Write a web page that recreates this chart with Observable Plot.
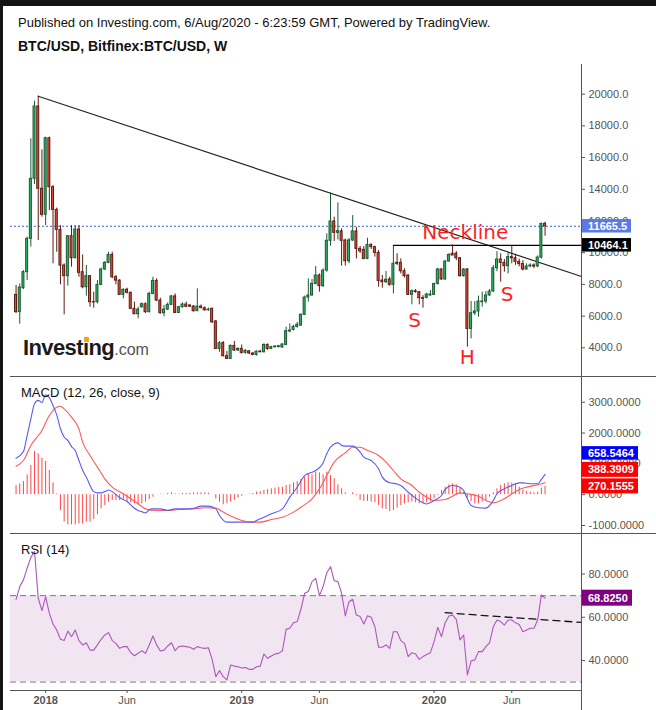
<!DOCTYPE html>
<html><head><meta charset="utf-8">
<script src="https://cdn.jsdelivr.net/npm/d3@7"></script>
<script src="https://cdn.jsdelivr.net/npm/@observablehq/plot@0.6"></script>
<style>
html,body{margin:0;padding:0;background:#fff;}
#root{position:relative;width:656px;height:710px;overflow:hidden;background:#fff;font-family:"Liberation Sans",Arial,sans-serif;}
#root > *{position:absolute;}
</style></head><body><div id="root"></div>
<script>
// ---------- DATA (weekly BTC/USD, Bitfinex, first bar = week of 2017-11-06) ----------
const firstWeek = "2017-11-06";
const opens = [7340,6250,7760,8770,10870,14660,19220,14030,12390,17220,14130,12700,11440,9190,8520,11040,9650,11460,8770,7820,8520,6880,6880,7970,8940,9360,9860,8450,8240,7340,7660,7470,6460,6120,6560,6750,6250,7400,8220,6980,6180,6410,6710,7240,6200,6560,6730,6670,6600,6310,6600,6500,6370,6460,5660,3930,4290,3470,3300,4120,3830,3930,3680,3780,3640,3550,3760,3720,4180,3930,4040,4040,4020,4180,5030,5130,5320,5400,6080,7170,7300,8030,8560,7890,8870,10750,11970,11250,11340,10770,9460,10770,11340,10240,10180,9610,10490,10350,9990,8240,8140,8310,7970,9360,9360,8830,8560,7340,7570,7510,7130,7150,7300,7340,8030,8940,8310,9440,9930,9930,9650,8520,8940,5190,6180,6290,6880,6920,7300,7550,9020,9570,9360,9150,9720,9650,9420,9280,8940,9130,9190,9130,9690,11820];
const highs = [7930,8030,8870,10980,17180,19560,19870,16490,17290,17290,14240,12810,11710,9300,11080,11710,11710,11710,9860,9190,8560,7510,8240,9020,9440,10030,10030,8560,8290,7720,7760,7510,6880,6560,6830,6830,7510,8450,8350,7130,6670,6830,7300,7400,6620,6830,6880,6710,6670,7720,6700,6580,6500,6500,5720,4400,4400,3760,4180,4400,4000,4180,3890,3830,3700,3800,3840,4250,4250,4100,4120,4150,4250,5300,5510,5420,5600,6140,7260,8350,8310,9130,8660,8980,11190,13770,12240,13140,11500,10850,10900,12340,11600,10390,10390,10910,10560,10410,10140,8560,8810,8460,10410,9930,9610,8980,8600,7650,7680,7560,7290,7440,7610,8070,9020,8980,9500,9930,10490,10070,9700,9000,9000,6920,6920,7260,7510,7550,7680,9190,10070,9930,9570,10030,10410,9900,9600,9500,9300,9300,9300,9800,11850,11920];
const lows = [6160,5490,7680,8240,10350,14300,10770,12240,11710,12660,9300,10030,7970,6080,7890,9090,9610,8450,7720,7260,6560,6500,6770,7930,8870,9300,8350,7970,7300,7090,7400,6410,6080,5830,6500,6160,6200,7340,6920,6120,5950,6350,6670,6160,6160,6500,6540,6540,6250,6290,6450,6300,6300,5530,3890,3720,3430,3260,3260,3760,3780,3600,3600,3580,3500,3480,3690,3680,3830,3880,3980,4000,3980,4140,4950,5060,5240,5360,6040,6880,7260,7970,7510,7800,8770,10410,10700,10800,9150,9150,9300,10700,9610,9950,9550,9560,10200,9720,7820,7760,8050,7880,7400,9190,8660,8400,7300,6710,7450,6710,6500,7090,7260,7300,7960,8260,8260,9400,9820,9500,8460,8460,4040,4560,6040,5930,6560,6770,7260,7510,8800,8140,8770,8660,9300,9200,9100,8850,8900,9050,9000,9050,9600,11040];
const closes = [6250,7800,8770,10870,14660,19220,14030,12390,17220,14130,12700,11440,9190,8520,11040,9650,11460,8730,7820,8520,6880,6860,7970,8940,9360,9860,8450,8240,7340,7660,7470,6460,6120,6410,6750,6250,7400,8220,6980,6180,6410,6710,7240,6200,6560,6730,6580,6600,6310,6600,6520,6370,6410,5610,3930,4290,3470,3300,4120,3830,3930,3680,3810,3640,3550,3760,3720,4180,3930,4040,4080,4100,4210,5050,5090,5320,5450,6080,7170,7300,8030,8560,7890,8870,10750,11970,11250,11360,10750,9460,10770,11340,10240,10090,9610,10490,10350,9990,8220,8140,8290,7970,9300,9300,8830,8520,7340,7570,7510,7130,7090,7360,7360,8030,8940,8310,9440,9860,9820,9650,8520,8940,5190,6180,6290,6920,6920,7300,7550,9020,9570,9360,9150,9720,9650,9420,9280,8940,9130,9190,9130,9690,11820,11665.5];

const rsi = [68.3,74.2,77.3,82.7,87.7,90.4,68.8,63.1,69.5,61.8,56.9,54.1,49.8,49.2,53.6,51.0,54.1,49.2,47.2,48.2,44.8,44.8,47.2,49.8,51.8,52.9,49.2,47.9,45.6,46.4,46.4,43.6,42.2,43.3,44.5,43.3,47.2,51.3,47.2,44.4,44.8,46.7,48.2,44.5,46.4,46.7,46.4,46.1,45.2,46.4,45.9,45.6,45.9,40.5,32.5,35.3,32.5,31.0,37.9,37.4,37.1,36.5,36.7,35.9,35.9,37.1,37.4,43.0,41.0,42.1,43.0,43.3,44.5,54.4,54.9,57.5,58.0,63.7,71.1,71.9,76.5,78.0,70.0,74.2,80.6,83.4,76.9,76.5,71.1,60.6,67.2,68.3,61.0,60.3,56.9,60.7,60.0,55.6,46.1,46.1,47.2,45.6,53.3,53.3,49.2,47.9,41.8,43.6,43.0,40.5,41.8,42.8,43.6,48.7,55.3,51.0,57.5,60.6,61.0,59.0,49.5,51.8,33.3,39.8,40.2,44.1,44.1,46.4,48.2,55.6,58.7,58.0,56.4,58.7,58.7,57.5,56.7,53.3,54.1,54.9,54.9,58.7,70.3,68.825];

const macdHist = [297,349,425,644,947,1401,1326,1185,1077,785,385,28,-513,-891,-978,-978,-978,-945,-945,-891,-891,-805,-653,-459,-350,-242,-188,-188,-188,-188,-220,-264,-296,-329,-296,-242,-156,-80,-4,17,6,39,60,28,17,39,39,50,60,60,60,60,50,-4,-134,-242,-329,-296,-242,-188,-112,-48,-4,17,39,82,104,136,169,190,212,234,245,298,320,385,428,493,569,677,645,731,709,645,731,623,515,320,190,60,-4,60,-26,-188,-220,-220,-242,-264,-350,-459,-480,-545,-513,-437,-350,-296,-264,-242,-264,-296,-296,-264,-220,-134,-26,136,245,320,353,320,212,82,-112,-220,-296,-296,-242,-188,-80,60,190,298,353,385,385,353,245,136,104,82,60,82,212,270.1555];

const macdWeeks  = [0,2,3,4,5,6,7,8,9,10,11,12,13,14,15,16,17,18,19,20,21,22,23,24,25,26,27,28,29,30,31,32,33,34,35,36,37,39,41,43,46,48,50,52,54,55,57,59,64,65,67,69,72,74,76,78,81,83,84,85,87,88,89,91,93,94,96,98,99,101,103,104,106,108,110,111,113,115,116,118,120,121,122,123,125,127,128,129,130,132,134,136,137,139,141,142,143];
const macdValues = [1185,1400,1920,2460,2950,3060,2990,3240,3150,2890,2590,2140,1870,1760,1560,1430,1110,790,570,300,100,60,60,100,150,100,0,-90,-160,-220,-330,-440,-510,-550,-590,-490,-460,-460,-510,-460,-460,-440,-370,-370,-460,-675,-890,-890,-890,-840,-730,-620,-460,-80,240,620,785,1030,1330,1540,1680,1600,1575,1575,1380,1220,1110,840,570,385,350,300,80,-110,-265,-300,-190,-25,170,300,245,135,-135,-350,-425,-435,-350,-190,30,190,300,385,385,355,355,495,658.5464];
const signalWeeks  = [0,2,4,7,9,11,12,13,15,17,18,20,22,24,26,29,31,33,35,38,41,44,48,51,54,56,58,61,64,66,69,72,75,77,80,82,84,86,89,91,93,95,98,100,102,104,107,109,111,113,116,118,120,122,125,127,129,132,134,136,138,141,143];
const signalValues = [925,1110,1595,2085,2570,2840,2870,2785,2515,2135,1705,1270,895,515,245,30,-135,-295,-460,-515,-515,-480,-460,-425,-435,-565,-695,-835,-890,-890,-805,-730,-565,-405,-135,190,620,1055,1355,1540,1540,1435,1270,1055,785,515,300,80,-80,-190,-155,-50,60,30,-50,-190,-265,-135,30,170,245,320,388.3909];

const priceTicks = [4000,6000,8000,10000,12000,14000,16000,18000,20000];
const macdTicks = [-1000,0,1000,2000,3000];
const rsiTicks = [40,60,80];
const rsiBands = [30,70];
const xTickDates = ["2018-01-01","2018-06-04","2019-01-07","2019-06-03","2020-01-06","2020-06-01"];
const xTickLabels = ["2018","Jun","2019","Jun","2020","Jun"];
const xDomainDates = ["2017-10-26T12:00:00Z","2020-10-10T22:00:00Z"];
const priceDomain = [2190,21870];
const macdDomain = [-1259,3802];
const rsiDomain = [26.1,98.3];

const trendDates = ["2017-12-18","2020-10-10T22:00:00Z"];
const trendValues = [19870,8500];
const necklineDates = ["2019-10-21","2020-10-10T22:00:00Z"];
const necklineValue = 10464.1;
const lastPrice = 11665.5;
const rsiTrendDates = ["2020-01-27","2020-10-10T22:00:00Z"];
const rsiTrendValues = [62.1,57.6];
const patternTexts = ["Neckline","S","H","S"];
const patternDates = ["2020-03-05","2019-11-30","2020-03-09","2020-05-23"];
const patternValues = [11240,5720,3390,7360];

// ---------- BUILD ----------
const DAY = 864e5;
const t0 = Date.parse(firstWeek + "T00:00:00Z");
const weeks = opens.map((_, i) => new Date(t0 + i * 7 * DAY));
const xDomain = xDomainDates.map(d => new Date(d));
const W = 656, ML = 10, MR = 75;
const msPerPx = (xDomain[1] - xDomain[0]) / (W - ML - MR);
const half = 1.0 * msPerPx;

const candles = weeks.map((d, i) => ({
  date: d, o: opens[i], h: highs[i], l: lows[i], c: closes[i], up: closes[i] >= opens[i]
}));
const GREEN = "#33b86a", GREEN_D = "#1b5a33", RED = "#e4503c", RED_D = "#5e1b12";

const font = {fontFamily: "'Liberation Sans', Arial, sans-serif", fontSize: "11px", color: "#555", background: "transparent", overflow: "visible"};
const xBase = {type: "utc", domain: xDomain};

const price = Plot.plot({
  width: W, height: 312, marginLeft: ML, marginRight: MR, marginTop: 0, marginBottom: 0,
  style: font,
  x: {...xBase, axis: null},
  y: {domain: priceDomain, axis: "right", ticks: priceTicks, tickFormat: d => d.toFixed(1), tickSize: 3, tickPadding: 4, label: null},
  marks: [
    Plot.ruleY([lastPrice], {stroke: "#3b5de6", strokeWidth: 1, strokeDasharray: "2,2"}),
    Plot.line(trendDates.map((d, i) => ({d: new Date(d), v: trendValues[i]})), {x: "d", y: "v", stroke: "#222", strokeWidth: 1.2}),
    Plot.line(necklineDates.map(d => ({d: new Date(d), v: necklineValue})), {x: "d", y: "v", stroke: "#000", strokeWidth: 1.3}),
    Plot.ruleX(candles, {x: "date", y1: "l", y2: "h", stroke: d => d.up ? GREEN_D : RED_D, strokeWidth: 1}),
    Plot.rect(candles, {
      x1: d => new Date(+d.date - half), x2: d => new Date(+d.date + half),
      y1: d => Math.min(d.o, d.c), y2: d => Math.max(d.o, d.c),
      fill: d => d.up ? GREEN : RED, stroke: d => d.up ? GREEN_D : RED_D, strokeWidth: 1
    }),
    Plot.text(patternTexts.map((t, i) => ({t, d: new Date(patternDates[i]), v: patternValues[i]})), {
      x: "d", y: "v", text: "t", fill: "#ff1f1f", fontSize: 20, fontFamily: "DejaVu Sans", textAnchor: "middle"
    })
  ]
});

const macdLine = macdWeeks.map((w, i) => ({d: weeks[w], v: macdValues[i]}));
const signalLine = signalWeeks.map((w, i) => ({d: weeks[w], v: signalValues[i]}));
const hist = weeks.map((d, i) => ({d, v: macdHist[i]}));

const macd = Plot.plot({
  width: W, height: 156, marginLeft: ML, marginRight: MR, marginTop: 0, marginBottom: 0,
  style: font,
  x: {...xBase, axis: null},
  y: {domain: macdDomain, axis: "right", ticks: macdTicks, tickFormat: d => d.toFixed(4), tickSize: 3, tickPadding: 4, label: null},
  marks: [
    Plot.ruleX(hist, {x: "d", y1: 0, y2: "v", stroke: "#ff4747", strokeWidth: 1}),
    Plot.line(signalLine, {x: "d", y: "v", stroke: "#ff5a5a", strokeWidth: 1.1, curve: "monotone-x"}),
    Plot.line(macdLine, {x: "d", y: "v", stroke: "#5a5af2", strokeWidth: 1.1, curve: "monotone-x"})
  ]
});

const labelOf = new Map(xTickDates.map((d, i) => [Date.parse(d + "T00:00:00Z"), xTickLabels[i]]));
const rsiData = weeks.map((d, i) => ({d, v: rsi[i]}));
const rsiPlot = Plot.plot({
  width: W, height: 176, marginLeft: ML, marginRight: MR, marginTop: 0, marginBottom: 20,
  style: font,
  x: {...xBase, axis: "bottom", ticks: xTickDates.map(d => new Date(d + "T00:00:00Z")), tickFormat: d => labelOf.get(+d), tickSize: 3, tickPadding: 3, label: null},
  y: {domain: rsiDomain, axis: "right", ticks: rsiTicks, tickFormat: d => d.toFixed(4), tickSize: 3, tickPadding: 4, label: null},
  marks: [
    Plot.rect([rsiBands], {x1: () => xDomain[0], x2: () => xDomain[1], y1: b => b[0], y2: b => b[1], fill: "#800080", fillOpacity: 0.1}),
    Plot.ruleY(rsiBands, {stroke: "#7a7a7a", strokeWidth: 1, strokeDasharray: "6,4"}),
    Plot.line(rsiTrendDates.map((d, i) => ({d: new Date(d), v: rsiTrendValues[i]})), {x: "d", y: "v", stroke: "#111", strokeWidth: 1.3, strokeDasharray: "7,5"}),
    Plot.line(rsiData, {x: "d", y: "v", stroke: "#ab58b8", strokeWidth: 1.1})
  ]
});
d3.select(rsiPlot).selectAll('[aria-label="x-axis tick label"] text').each(function() {
  const t = d3.select(this);
  if (/^\d{4}$/.test(t.text())) t.attr("font-weight", "bold");
});

// ---------- LAYOUT ----------
const root = document.getElementById("root");
function place(el, top) { el.style.left = "0px"; el.style.top = top + "px"; root.appendChild(el); }
place(price, 64);
place(macd, 377);
place(rsiPlot, 534);

const ov = d3.select(root).append("svg").attr("width", W).attr("height", 710)
  .style("left", "0px").style("top", "0px").style("pointer-events", "none");
// frame
ov.append("rect").attr("x", 0).attr("y", 0).attr("width", W).attr("height", 6).attr("fill", "#141414");
ov.append("rect").attr("x", 0).attr("y", 0).attr("width", 3).attr("height", 710).attr("fill", "#141414");
const line = (x1, y1, x2, y2) => ov.append("line").attr("x1", x1).attr("y1", y1).attr("x2", x2).attr("y2", y2).attr("stroke", "#555").attr("stroke-width", 1);
line(10, 376.5, W, 376.5);
line(10, 533.5, W, 533.5);
line(10, 690.5, 581, 690.5);
line(581.5, 64, 581.5, 710);

function box(yc, text, bg, w, h) {
  ov.append("rect").attr("x", 582).attr("y", yc - h / 2).attr("width", w).attr("height", h).attr("fill", bg);
  ov.append("text").attr("x", 588).attr("y", yc).attr("dy", "0.36em").attr("fill", "#fff")
    .attr("font-family", "'Liberation Sans', Arial, sans-serif").attr("font-size", 11).attr("font-weight", "bold").text(text);
}
const py = price.scale("y"), my = macd.scale("y"), ry = rsiPlot.scale("y");
box(64 + py.apply(lastPrice), lastPrice.toFixed(1), "#5b7ae6", 49, 13.5);
box(64 + py.apply(necklineValue), necklineValue.toFixed(1), "#000", 49, 13.5);
// MACD labels stacked to avoid overlap (as TradingView does)
const lastMacd = macdValues[macdValues.length - 1], lastSig = signalValues[signalValues.length - 1], lastHist = macdHist[macdHist.length - 1];
let yH = 377 + my.apply(lastHist);
let yS = Math.min(377 + my.apply(lastSig), yH - 16.5);
let yM = Math.min(377 + my.apply(lastMacd), yS - 16.5);
box(yM, lastMacd.toFixed(4), "#0000ff", 56, 13.5);
box(yS, lastSig.toFixed(4), "#ff0000", 56, 15);
box(yH, lastHist.toFixed(4), "#ff0000", 56, 15);
box(534 + ry.apply(rsi[rsi.length - 1]), rsi[rsi.length - 1].toFixed(4), "#800080", 50, 16);

// ---------- TEXT ----------
function html(s, left, top, style) {
  const d = document.createElement("div");
  d.innerHTML = s; d.style.left = left + "px"; d.style.top = top + "px"; d.style.whiteSpace = "nowrap";
  Object.assign(d.style, style || {});
  root.appendChild(d);
  return d;
}
html("Published on Investing.com, 6/Aug/2020 - 6:23:59 GMT, Powered by TradingView.", 18, 15, {fontSize: "13px", color: "#111"});
html("BTC/USD, Bitfinex:BTC/USD, W", 18, 38, {fontSize: "14px", fontWeight: "bold", color: "#111"});
html("MACD (12, 26, close, 9)", 21, 385, {fontSize: "13px", color: "#111"});
html("RSI (14)", 21, 542, {fontSize: "13px", color: "#111"});
html('Invest<span style="position:relative">\u0131<span style="position:absolute;left:1px;top:2px;width:5px;height:5px;border-radius:1px;background:#f5a21b"></span></span>ng<span style="font-weight:normal;font-size:16px;color:#555;letter-spacing:0">.com</span>', 23, 335,
  {fontSize: "22px", fontWeight: "bold", color: "#1b1b1b", letterSpacing: "-0.6px"});
</script></body></html>
